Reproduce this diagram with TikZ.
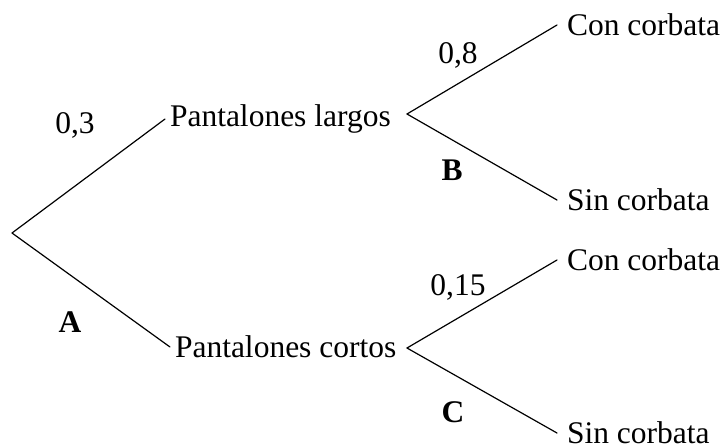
\documentclass[tikz,border=0pt]{standalone}
\usepackage{fontspec}
\setmainfont{Liberation Serif}
\usepackage{tikz}
\tikzset{
  base/.style={draw=black, line width=0.6pt, line cap=round, line join=round},
  item/.style={anchor=west, inner sep=2.5pt, outer sep=0pt, font=\fontsize{15.75}{19}\selectfont},
  leaf/.style={item, inner xsep=5pt},
  lab/.style={inner sep=0pt, font=\fontsize{15.75}{19}\selectfont},
  labb/.style={lab, font=\fontsize{15.75}{19}\selectfont\bfseries},
}
\begin{document}
\begin{tikzpicture}[x=0.5pt, y=-0.5pt]
  \useasboundingbox (0,0) rectangle (723,446);
  \coordinate (root) at (12,233);
  \coordinate (B) at (407,114);
  \coordinate (C) at (407,348);
  \node[item] (largos) at (165,119) {Pantalones largos};
  \node[item] (cortos) at (170,347) {Pantalones cortos};
  \node[leaf] (conB) at (557,25) {Con corbata};
  \node[leaf] (sinB) at (557,200) {Sin corbata};
  \node[leaf] (conC) at (557,260) {Con corbata};
  \node[leaf] (sinC) at (557,433) {Sin corbata};
  \foreach \a/\b in {root/largos, root/cortos, B/conB, B/sinB, C/conC, C/sinC}
    \draw[base] (\a) -- (\b.west);
  \node[lab] (p3) at (75,125) {0,3};
  \node[labb] (lA) at (70,322) {A};
  \node[lab] (p8) at (458,55) {0,8};
  \node[labb] (lB) at (452,170) {B};
  \node[lab] (p15) at (458,287) {0,15};
  \node[labb] (lC) at (453,412) {C};
\end{tikzpicture}
\end{document}
